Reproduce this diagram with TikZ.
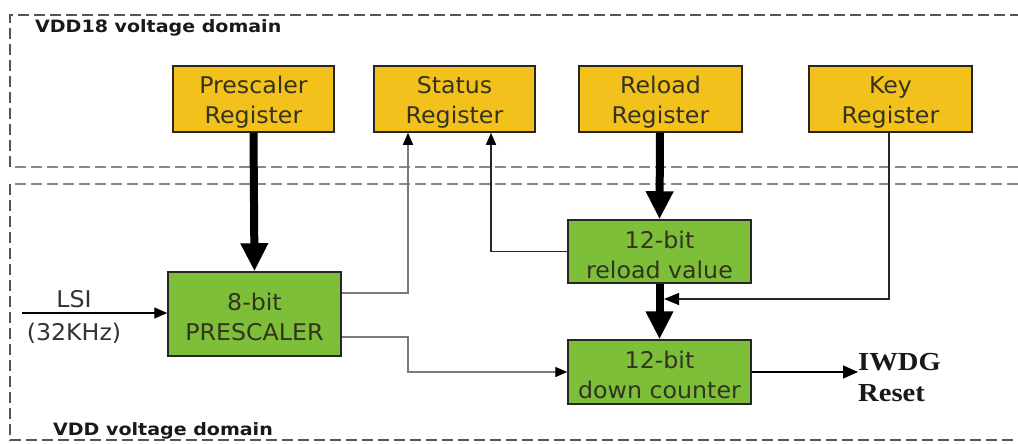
\documentclass[tikz,border=0pt]{standalone}
\usepackage{fontspec}
\usetikzlibrary{arrows.meta,calc}
\newfontfamily\boxfont[FakeStretch=1.03]{DejaVu Sans}
\newfontfamily\dombold[FakeStretch=1.12]{DejaVu Sans Bold}
\newfontfamily\rstfont[FakeStretch=1.1]{Liberation Serif}
\newcommand\boxstrut{\rule{0pt}{24pt}}
\definecolor{regyellow}{HTML}{F3C11C}
\definecolor{blkgreen}{HTML}{7DBF38}
\definecolor{boxtext}{HTML}{33331F}
\definecolor{dashdark}{HTML}{555555}
\definecolor{dashlight}{HTML}{8C8888}
\definecolor{wiregray}{HTML}{7A7A7A}
\begin{document}
\begin{tikzpicture}[x=1pt,y=-1pt,
  boxbase/.style={draw=black!85, line width=1.5pt, align=center, inner sep=0pt,
    font=\boxfont\fontsize{23}{30}\selectfont, text=boxtext},
  regbox/.style={boxbase, fill=regyellow, minimum width=162pt, minimum height=66pt},
  grnbox/.style={boxbase, fill=blkgreen},
  domlabel/.style={anchor=base west, inner sep=0pt, font=\dombold\fontsize{17}{20}\selectfont, text=black!90},
  domline/.style={line width=1.4pt, dash pattern=on 11pt off 5pt},
  thickarrow/.style={line width=8pt, -{Triangle[length=28pt,width=26pt]}},
  thinarrow/.style={line width=1.3pt, -{Triangle[length=12pt,width=10pt,color=black]}},
  lsitext/.style={anchor=base, inner sep=0pt, font=\boxfont\fontsize{23}{26}\selectfont, text=black!80}
]
\useasboundingbox (0,0) rectangle (1018,444);
\fill[white] (0,0) rectangle (1018,444);

% voltage domains
\draw[domline, draw=dashlight] (1018,167) -- (10,167);
\draw[domline, draw=dashdark] (10,167) -- (10,15) -- (1018,15);
\draw[domline, draw=dashlight] (1018,184) -- (10,184);
\draw[domline, draw=dashdark] (10,184) -- (10,440) -- (1018,440);
\node[domlabel] (dom18) at (35,33) {VDD18 voltage domain};
\node[domlabel] (domvdd) at (53,435) {VDD voltage domain};

% registers
\node[regbox, minimum width=161pt] (prereg) at (253.5,99) {\boxstrut Prescaler\\Register};
\node[regbox, minimum width=161pt] (statreg) at (454.5,99) {\boxstrut Status\\Register};
\node[regbox, minimum width=163pt] (relreg) at (660.5,99) {\boxstrut Reload\\Register};
\node[regbox, minimum width=163pt] (keyreg) at (890.5,99) {\boxstrut Key\\Register};

% green blocks
\node[grnbox, minimum width=173pt, minimum height=84pt] (presc) at (254.5,314) {\boxstrut 8-bit\\PRESCALER};
\node[grnbox, minimum width=183pt, minimum height=63pt] (relval) at (659.5,251.5) {\boxstrut 12-bit\\reload value};
\node[grnbox, minimum width=183pt, minimum height=64pt] (downc) at (659.5,372) {\boxstrut 12-bit\\down counter};

% LSI input
\coordinate (lsi) at (22,313);
\node[lsitext] (lsilbl) at (74,307) {LSI};
\node[lsitext] (lsifreq) at (74,340) {(32KHz)};
\draw[line width=1.4pt, -{Triangle[length=13pt,width=11pt]}] (lsi) -- (lsi -| presc.west);

% IWDG reset
\node[anchor=west, align=left, inner sep=0pt, font=\rstfont\bfseries\fontsize{26}{31}\selectfont, text=black!90] (iwdg) at (858,378) {IWDG\\Reset};
\draw[line width=1.4pt, -{Triangle[length=15pt,width=13pt]}] (downc.east) -- (downc.east -| iwdg.west);

% thick data paths
\draw[thickarrow] (prereg.south) -- (presc.north);
\draw[thickarrow] ([xshift=-0.5pt]relreg.south) -- (relval.north);
\draw[thickarrow] (relval.south) -- (downc.north);

% status register feeds
\draw[thinarrow, draw=wiregray] ([yshift=21pt]presc.east) -| ([xshift=-46.5pt]statreg.south);
\draw[thinarrow, draw=black!85] (relval.west) -| ([xshift=36.5pt]statreg.south);

% prescaler to down counter
\coordinate (pbend) at (408,337);
\draw[thinarrow, draw=wiregray] ([yshift=-23pt]presc.east) -- (pbend) |- (downc.west);

% key register to reload path
\coordinate (keyjoin) at (664,299);
\draw[line width=1.3pt, draw=black!85, -{Triangle[length=15pt,width=12pt,color=black]}] ([xshift=-1.5pt]keyreg.south) |- (keyjoin);
\end{tikzpicture}
\end{document}
